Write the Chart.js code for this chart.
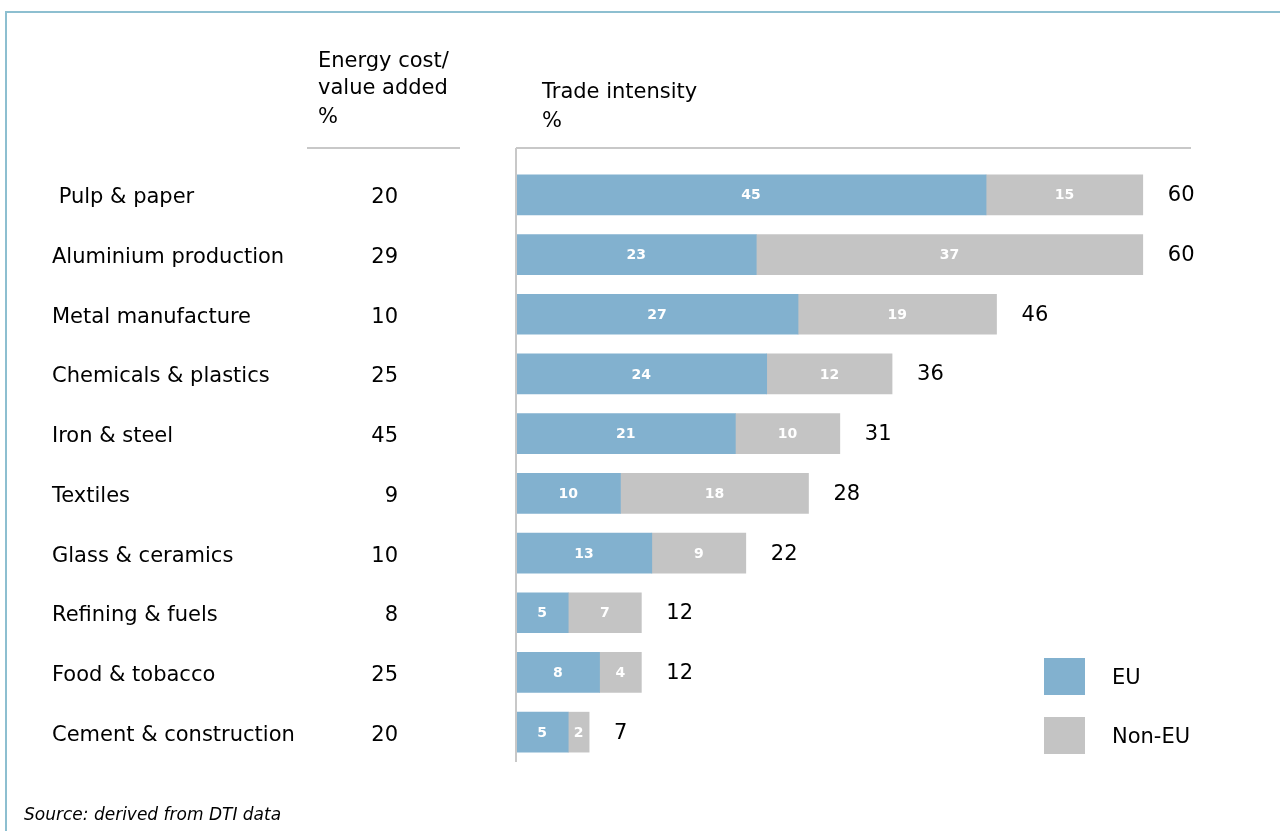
<!DOCTYPE html>
<html>
<head>
<meta charset="utf-8">
<script src="https://cdn.jsdelivr.net/npm/chart.js@4/dist/chart.umd.min.js"></script>
<style>
  html, body { margin: 0; padding: 0; background: #fff; }
  #wrap { position: relative; width: 1280px; height: 831px; }
</style>
</head>
<body>
<div id="wrap"><canvas id="myChart" width="1280" height="831"></canvas></div>
<script>
/* Energy cost vs trade intensity */
var categories = [" Pulp & paper", "Aluminium production", "Metal manufacture", "Chemicals & plastics",
  "Iron & steel", "Textiles", "Glass & ceramics", "Refining & fuels", "Food & tobacco", "Cement & construction"];
var energyCost = [20, 29, 10, 25, 45, 9, 10, 8, 25, 20];
var euShare = [45, 23, 27, 24, 21, 10, 13, 5, 8, 5];
var nonEuShare = [15, 37, 19, 12, 10, 18, 9, 7, 4, 2];
var seriesNames = ["EU", "Non-EU"];
var seriesColors = ["#82B1CF", "#C4C4C4"];

var FONT = "'DejaVu Sans', sans-serif";

var extras = {
  id: 'extras',
  afterDraw: function(chart) {
    var c = chart.ctx;
    var xs = chart.scales.x, ys = chart.scales.y;
    var area = chart.chartArea;
    c.save();

    // frame
    c.strokeStyle = '#8DBFD0';
    c.lineWidth = 2;
    c.beginPath();
    c.moveTo(1280, 12); c.lineTo(6, 12); c.lineTo(6, 831);
    c.stroke();

    // headers
    c.fillStyle = '#000';
    c.font = '21px ' + FONT;
    c.textAlign = 'left';
    c.textBaseline = 'middle';
    c.fillText('Energy cost/', 318, 62);
    c.fillText('value added', 318, 89);
    c.fillText('%', 318, 118);
    c.fillText('Trade intensity', 542, 93);
    c.fillText('%', 542, 122);

    // separators and axis line
    c.strokeStyle = '#C8C8C8';
    c.lineWidth = 2;
    c.beginPath();
    c.moveTo(307, 148); c.lineTo(460, 148);
    c.moveTo(516, 148); c.lineTo(1191, 148);
    c.moveTo(516, 148); c.lineTo(516, area.bottom);
    c.stroke();

    // rows
    categories.forEach(function(cat, i) {
      var y = ys.getPixelForValue(i);
      c.fillStyle = '#000';
      c.font = '21px ' + FONT;
      c.textAlign = 'left';
      c.fillText(cat, 52, y + 3);
      c.textAlign = 'right';
      c.fillText(String(energyCost[i]), 398, y + 3);
      var total = euShare[i] + nonEuShare[i];
      c.textAlign = 'left';
      c.fillText(String(total), xs.getPixelForValue(total) + 25, y + 1);
    });

    // values inside segments
    c.fillStyle = '#fff';
    c.font = 'bold 14px ' + FONT;
    c.textAlign = 'center';
    chart.data.datasets.forEach(function(ds, di) {
      chart.getDatasetMeta(di).data.forEach(function(bar, i) {
        var mid = (bar.x + bar.base) / 2;
        c.fillText(String(ds.data[i]), mid, bar.y + 1);
      });
    });

    // legend
    var legY = [677, 736];
    c.font = '21px ' + FONT;
    c.textAlign = 'left';
    seriesNames.forEach(function(name, k) {
      c.fillStyle = seriesColors[k];
      c.fillRect(1044, legY[k] - 19, 41, 37);
      c.fillStyle = '#000';
      c.fillText(name, 1112, legY[k] + 2);
    });

    // source
    c.font = 'oblique 17px ' + FONT;
    c.fillText('Source: derived from DTI data', 24, 816);
    c.restore();
  }
};

var ctx1 = document.getElementById("myChart").getContext("2d");
window.myBar = new Chart(ctx1, {
  type: 'bar',
  data: {
    labels: categories,
    datasets: [
      { label: seriesNames[0], data: euShare, backgroundColor: seriesColors[0], barThickness: 40 },
      { label: seriesNames[1], data: nonEuShare, backgroundColor: seriesColors[1], barThickness: 40 }
    ]
  },
  options: {
    indexAxis: 'y',
    animation: false,
    responsive: false,
    layout: { padding: { left: 516, right: 85, top: 165, bottom: 69 } },
    plugins: {
      legend: { display: false },
      tooltip: { enabled: false }
    },
    scales: {
      x: { stacked: true, min: 0, max: 65, display: false },
      y: { stacked: true, display: false }
    }
  },
  plugins: [extras]
});
</script>
</body>
</html>
